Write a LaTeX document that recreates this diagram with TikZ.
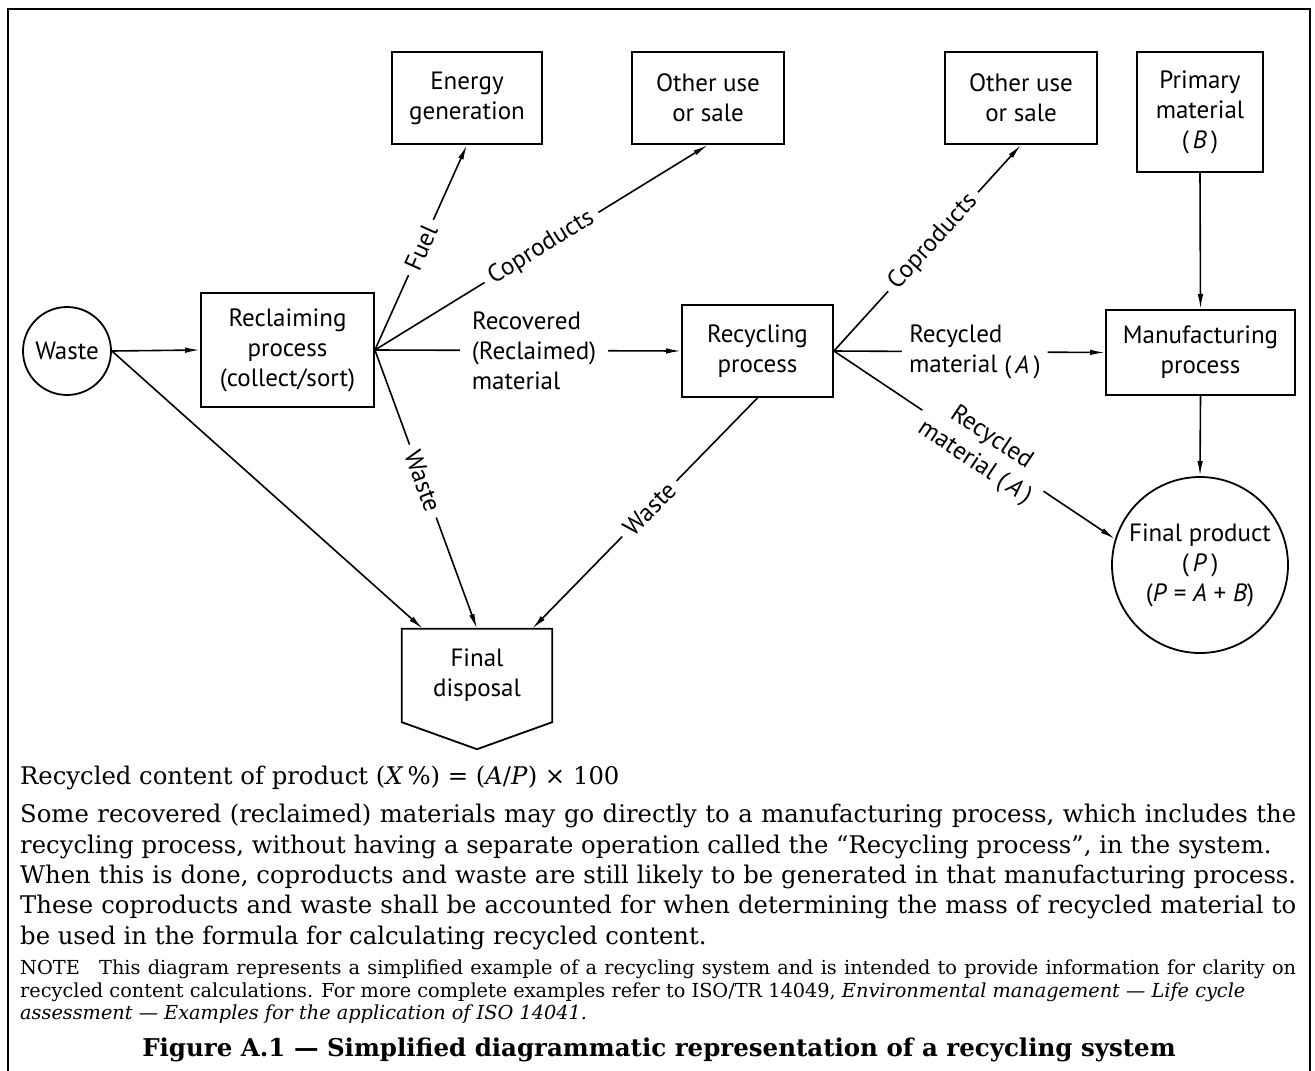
\documentclass[tikz,border=0pt]{standalone}
\usepackage{fontspec}
\setmainfont{DejaVu Serif}
\newfontfamily\lblfont{PT Sans}
\usetikzlibrary{arrows.meta,calc}
\begin{document}
\begin{tikzpicture}[x=1pt,y=-1pt,
  every node/.style={inner sep=0pt},
  lbl/.style={font=\lblfont\fontsize{25}{30}\selectfont},
  box/.style={draw,line width=1.8pt,align=center,lbl},
  conn/.style={line width=1.6pt},
  arr/.style={conn,-{Latex[length=15pt,width=5.5pt]}},
  tag/.style={lbl,fill=white,inner sep=7pt,sloped,align=center},
  body/.style={anchor=base west,font=\fontsize{24.3}{30}\selectfont},
  note/.style={anchor=base west,font=\fontsize{19.3}{22}\selectfont},
  capt/.style={anchor=base,font=\bfseries\fontsize{24.5}{28}\selectfont}
]
\useasboundingbox (0,0) rectangle (1315,1071);
\fill[white] (0,0) rectangle (1315,1071);
\draw[line width=1.8pt] (8,1071) -- (8,9) -- (1310,9) -- (1310,1071);

% nodes
\node[box,circle,minimum size=88pt] (waste) at (67,351) {Waste};
\node[box,minimum width=173pt,minimum height=114pt] (recl) at (287.5,350) {Reclaiming\\process\\(collect/sort)};
\node[box,minimum width=150pt,minimum height=92pt] (energy) at (467,98) {Energy\\generation};
\node[box,minimum width=152pt,minimum height=92pt] (other1) at (708,98) {Other use\\or sale};
\node[box,minimum width=152pt,minimum height=92pt] (other2) at (1021,98) {Other use\\or sale};
\node[box,minimum width=126pt,minimum height=120pt] (prim) at (1200,112) {Primary\\material\\(\,\textit{B}\,)};
\node[box,minimum width=151pt,minimum height=92pt] (recy) at (757.5,351) {Recycling\\process};
\node[box,minimum width=189pt,minimum height=85pt] (manu) at (1200.5,352.5) {Manufacturing\\process};
\node[box,circle,minimum size=176pt] (prod) at (1200,565) {Final product\\(\,\textit{P}\,)\\(\textit{P} =\ \textit{A} + \textit{B})};
\node[lbl,minimum width=150pt,minimum height=93pt,align=center] (disp) at (477,675.5) {Final\\disposal};
\draw[line width=1.8pt] (disp.north west) -- (disp.north east) -- (disp.south east)
  -- ($(disp.south)+(0,27)$) -- (disp.south west) -- cycle;
\coordinate (d1) at ($(disp.north west)+(21,0)$);
\coordinate (d3) at ($(disp.north east)+(-20,0)$);

% connectors
\draw[arr] (waste.east) -- (recl.west);
\draw[arr] (waste.east) -- (d1);
\draw[arr] (recl.east) -- node[tag,pos=0.5] {Fuel} (energy.south);
\draw[arr] (recl.east) -- node[tag,pos=0.5] {Coproducts} (other1.south);
\draw[arr] (recl.east) -- node[tag,pos=0.52,align=left,inner xsep=12pt] {Recovered\\(Reclaimed)\\material} (recy.west);
\draw[arr] (recl.east) -- node[tag,pos=0.47] {Waste} (disp.north);
\draw[arr] (recy.east) -- node[tag,pos=0.53] {Coproducts} (other2.south);
\draw[arr] (recy.east) -- node[tag,pos=0.52,align=left] {Recycled\\material (\,\textit{A}\,)} (manu.west);
\draw[arr] (recy.east) -- node[tag,pos=0.53] {Recycled\\material (\,\textit{A}\,)} (prod.163);
\draw[arr] (recy.south) -- node[tag,pos=0.48] {Waste} (d3);
\draw[arr] (prim.south) -- (manu.north);
\draw[arr] (manu.south) -- (prod.north);

% text
\node[body] (t1) at (20,784) {Recycled content of product (\textit{X}\,\%) = (\textit{A}/\textit{P}) × 100};
\node[body] (t2) at (20,822) {\makebox[1276pt][s]{Some recovered (reclaimed) materials may go directly to a manufacturing process, which includes the}};
\node[body] (t3) at (20,853) {recycling process, without having a separate operation called the “Recycling process”, in the system.};
\node[body] (t4) at (20,883) {\makebox[1276pt][s]{When this is done, coproducts and waste are still likely to be generated in that manufacturing process.}};
\node[body] (t5) at (20,913) {\makebox[1276pt][s]{These coproducts and waste shall be accounted for when determining the mass of recycled material to}};
\node[body] (t6) at (20,944) {be used in the formula for calculating recycled content.};
\node[note] (n1) at (20,974) {\makebox[1276pt][s]{NOTE\quad This diagram represents a simplified example of a recycling system and is intended to provide information for clarity on}};
\node[note] (n2) at (20,997) {recycled content calculations. For more complete examples refer to ISO/TR 14049, \textit{Environmental management — Life cycle}};
\node[note] (n3) at (20,1019) {\textit{assessment — Examples for the application of ISO 14041.}};
\node[capt] (cap) at (659,1056) {Figure A.1 — Simplified diagrammatic representation of a recycling system};
\end{tikzpicture}
\end{document}
